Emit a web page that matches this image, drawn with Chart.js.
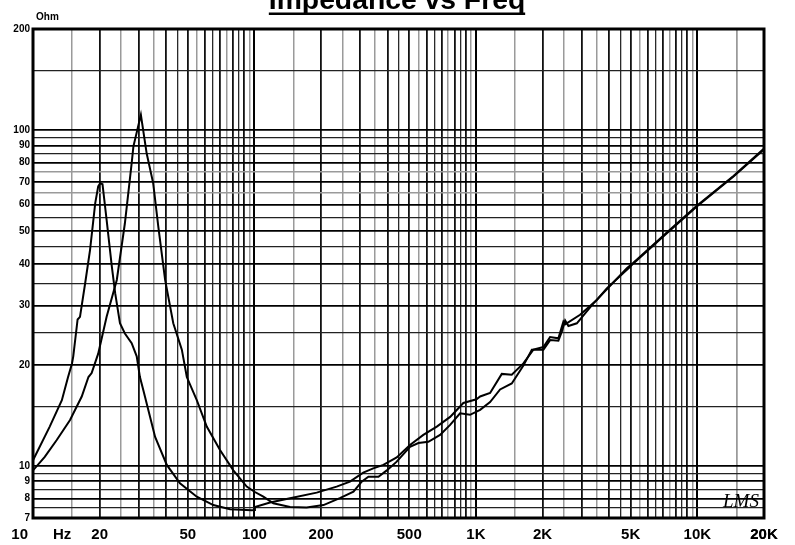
<!DOCTYPE html>
<html lang="en">
<head>
<meta charset="UTF-8" />
<title>Impedance vs Freq</title>
<script src="https://cdn.jsdelivr.net/npm/chart.js@4.4.1/dist/chart.umd.min.js"></script>
<style>
  body { margin: 0; background: #fff; }
</style>
</head>
<body>
<canvas id="myChart" width="795" height="545"></canvas>

<script>
// curve with the resonance near 20 Hz (Hz / Ohm)
const freqA = [10, 11.9, 13.5, 14.4, 15.0, 15.2, 15.9, 16.3, 17.2, 18.1, 19.1, 19.7, 20.1, 20.6, 21.5,
  22.7, 23.5, 24.7, 26.0, 27.9, 29.4, 30.4, 31.5, 35.6, 40.2, 46.1, 54.9, 65.2, 77.6, 97.2, 100,
  100.5, 117.6, 144.8, 191, 235, 270, 310, 344, 382, 439, 504, 579, 666, 765, 878, 1006, 1045,
  1159, 1309, 1452, 1639, 1818, 2018, 2163, 2358, 2484, 2530, 2955, 3516, 3900, 4971, 5142,
  7282, 9947, 14560, 19890];
const ohmA = [10.4, 13.1, 15.7, 18.4, 20.2, 21.2, 27.3, 27.8, 35.0, 44.0, 60.6, 68.0, 69.5, 69.0, 54.0,
  39.2, 32.7, 26.6, 24.8, 23.2, 21.2, 18.4, 16.8, 12.2, 10.07, 8.88, 8.1, 7.65, 7.43, 7.38, 7.4,
  7.55, 7.78, 8.02, 8.33, 8.68, 8.98, 9.55, 9.84, 10.07, 10.6, 11.55, 12.37, 13.1, 14.0, 15.4, 15.8, 16.1,
  16.5, 18.8, 18.7, 20.2, 22.2, 22.6, 24.2, 24.0, 26.9, 26.4, 28.2, 31.2, 33.8, 39.2, 40.1,
  49.3, 59.2, 72.7, 87.3];

// curve with the resonance near 31 Hz
const freqB = [10, 11.3, 12.8, 14.7, 16.6, 17.8, 18.4, 19.7, 21.5, 23.9, 26.0, 27.9, 28.4, 30.7, 32.6,
  34.9, 36.8, 39.5, 43.0, 47.0, 49.5, 54.9, 60.9, 69.9, 80.3, 92.3, 100, 109.7, 121.7, 144.8, 172,
  205, 243, 280, 305, 327, 363, 396, 439, 504, 550, 610, 689, 765, 848, 941, 1045, 1159, 1286,
  1452, 1639, 1789, 2018, 2163, 2358, 2443, 2530, 2617, 2856, 3394, 4804, 5142, 7282, 9947,
  14560, 19890];
const ohmB = [9.7, 10.65, 11.95, 13.7, 16.1, 18.4, 18.9, 21.6, 27.8, 35.8, 52.8, 79.7, 89.3, 111, 85.3,
  69.4, 51.6, 35.8, 26.6, 22.2, 18.4, 15.7, 13.1, 11.16, 9.7, 8.68, 8.38, 8.1, 7.74, 7.55, 7.52,
  7.65, 8.02, 8.38, 8.98, 9.29, 9.29, 9.7, 10.3, 11.4, 11.7, 11.8, 12.37, 13.25, 14.35, 14.2, 14.7, 15.5, 16.9,
  17.6, 19.9, 22.2, 22.2, 23.7, 23.6, 25.1, 27.1, 26.1, 26.6, 30.5, 38.8, 40.3, 49.6, 59.5,
  73.0, 87.8];

// grid: multiples inside each decade, and the decades themselves
const gridSteps = [1, 1.5, 2, 2.5, 3, 3.5, 4, 4.5, 5, 5.5, 6, 6.5, 7, 7.5, 8, 8.5, 9, 9.5];
const decades = [10, 100, 1000, 10000];
const greySteps = [1.5, 2.5, 3.5, 5.5, 7.5, 9.5];

const xLabelValues = [10, 20, 50, 100, 200, 500, 1000, 2000, 5000, 10000, 20000];
const xLabelTexts = ["    10      Hz", "20", "50", "100", "200", "500", "1K", "2K", "5K", "10K", "20K"];

const yGrid = [7, 7.5, 8, 8.5, 9, 9.5, 10, 15, 20, 25, 30, 35, 40, 45, 50, 55, 60, 65, 70, 75,
  80, 85, 90, 95, 100, 150, 200];
const yLabelValues = [7, 8, 9, 10, 20, 30, 40, 50, 60, 70, 80, 90, 100, 200];
const yGreyLines = [65, 75];

const xGrid = [];
decades.forEach((d) => gridSteps.forEach((s) => {
  if (d * s <= 20000) xGrid.push(d * s);
}));
xGrid.push(15000, 20000);

const font = '"Liberation Sans", Arial, sans-serif';

function near(a, b) {
  return Math.abs(a - b) / b < 1e-6;
}

function xStep(v) {
  const d = Math.pow(10, Math.floor(Math.log10(v) + 1e-9));
  return Math.round((v / d) * 10) / 10;
}

function xLine(v) {
  const s = xStep(v);
  if (s === 1) return ["#000", 2];
  if (greySteps.includes(s)) return ["#9a9a9a", 1.5];
  if (s % 1 === 0) return ["#111", 1.8];
  return ["#2a2a2a", 1.3];
}

function yLine(v) {
  if (yGreyLines.includes(v)) return ["#9a9a9a", 1.5];
  if (yLabelValues.includes(v)) return ["#000", 1.8];
  return ["#222", 1.3];
}

const decorations = {
  id: "decorations",
  afterDraw(chart) {
    const ctx = chart.ctx;
    const a = chart.chartArea;
    ctx.save();
    // frame
    ctx.strokeStyle = "#000";
    ctx.lineWidth = 3;
    ctx.strokeRect(a.left, a.top, a.right - a.left, a.bottom - a.top);

    // title, mostly above the page edge, underlined
    const title = "Impedance vs Freq";
    ctx.font = "bold 28px " + font;
    const scale = 256 / ctx.measureText(title).width;
    ctx.font = "bold " + (28 * scale).toFixed(1) + "px " + font;
    const w = ctx.measureText(title).width;
    ctx.fillStyle = "#000";
    ctx.textAlign = "center";
    ctx.textBaseline = "alphabetic";
    ctx.fillText(title, 397, 8.5);
    ctx.fillRect(397 - w / 2, 12.5, w, 2.5);

    // unit
    ctx.font = "bold 10px " + font;
    ctx.textAlign = "left";
    ctx.fillText("Ohm", 36, 20);

    // logo
    ctx.font = "italic 19px \"Liberation Serif\", serif";
    ctx.fillText("LMS", 723, 507);
    ctx.restore();
  },
};

const ctx = document.getElementById("myChart").getContext("2d");
const myChart = new Chart(ctx, {
  type: "line",
  data: {
    datasets: [
      {
        label: "A",
        data: freqA.map((f, i) => ({ x: f, y: ohmA[i] })),
        borderColor: "#000",
        borderWidth: 2,
        pointRadius: 0,
        tension: 0,
      },
      {
        label: "B",
        data: freqB.map((f, i) => ({ x: f, y: ohmB[i] })),
        borderColor: "#000",
        borderWidth: 2,
        pointRadius: 0,
        tension: 0,
      },
    ],
  },
  options: {
    responsive: false,
    animation: false,
    devicePixelRatio: 1,
    layout: { padding: { top: 29, right: 31, left: 0, bottom: 0 } },
    plugins: { legend: { display: false }, title: { display: false }, tooltip: { enabled: false } },
    scales: {
      x: {
        type: "logarithmic",
        min: 10,
        max: 20000,
        afterBuildTicks: (scale) => { scale.ticks = xGrid.map((v) => ({ value: v })); },
        afterFit: (scale) => {
          scale.height = 27;
          scale.paddingLeft = 0;
          scale.paddingRight = 0;
        },
        border: { display: false },
        grid: {
          drawTicks: false,
          color: (c) => xLine(c.tick.value)[0],
          lineWidth: (c) => xLine(c.tick.value)[1],
        },
        ticks: {
          autoSkip: false,
          maxRotation: 0,
          minRotation: 0,
          padding: 8,
          color: "#000",
          font: { family: font, weight: "bold", size: 15 },
          callback: (v) => {
            const i = xLabelValues.findIndex((t) => near(v, t));
            return i < 0 ? "" : xLabelTexts[i];
          },
        },
      },
      y: {
        type: "logarithmic",
        min: 7,
        max: 200,
        afterBuildTicks: (scale) => { scale.ticks = yGrid.map((v) => ({ value: v })); },
        afterFit: (scale) => {
          scale.width = 33;
          scale.paddingTop = 0;
          scale.paddingBottom = 0;
        },
        border: { display: false },
        grid: {
          drawTicks: false,
          color: (c) => yLine(c.tick.value)[0],
          lineWidth: (c) => yLine(c.tick.value)[1],
        },
        ticks: {
          autoSkip: false,
          padding: 3,
          color: "#000",
          font: { family: font, weight: "bold", size: 10 },
          callback: (v) => (yLabelValues.some((t) => near(v, t)) ? String(v) : ""),
        },
      },
    },
  },
  plugins: [decorations],
});
</script>
</body>
</html>
